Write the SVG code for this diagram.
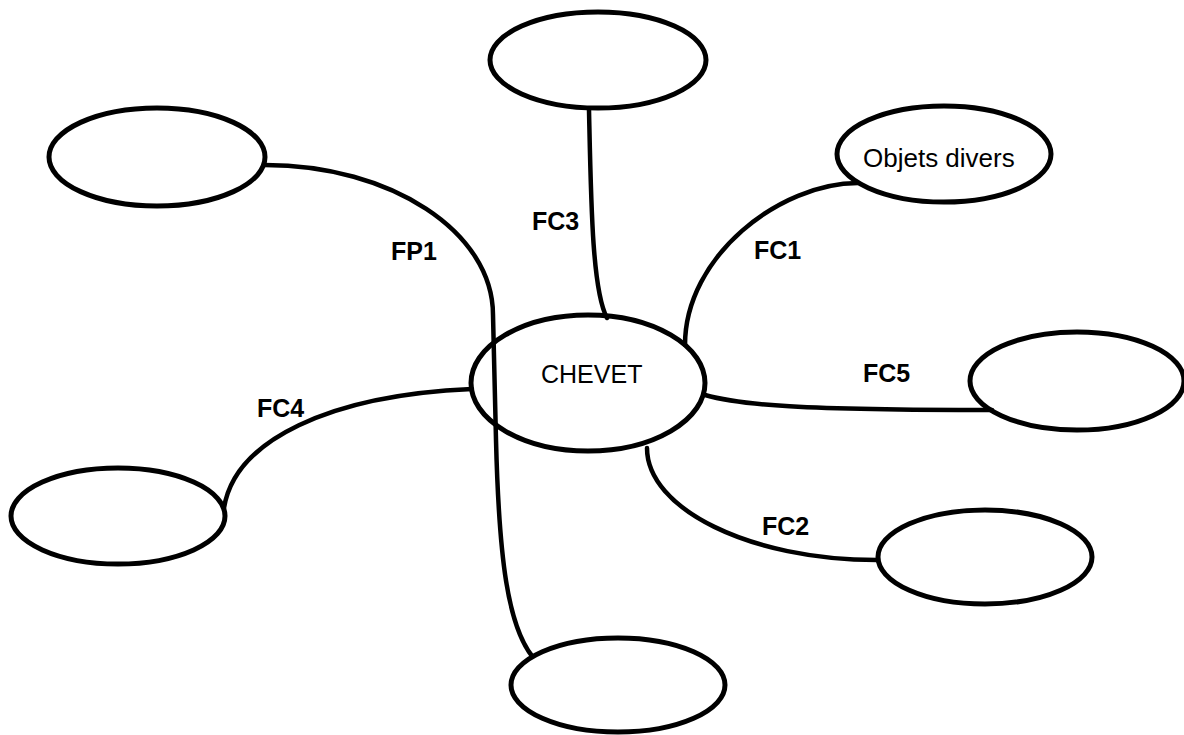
<svg xmlns="http://www.w3.org/2000/svg" width="1184" height="735" viewBox="0 0 1184 735">
<style>
.node{fill:none;stroke:#000;stroke-width:5}
.conn{fill:none;stroke:#000;stroke-width:4.5;stroke-linecap:round}
.lbl{font-family:"Liberation Sans",Arial,sans-serif;font-weight:bold;font-size:25px;fill:#000}
.txt{font-family:"Liberation Sans",Arial,sans-serif;font-size:25px;fill:#000}
</style>
<rect width="1184" height="735" fill="#fff"/>
<g id="node-top"><ellipse class="node" cx="598" cy="60" rx="108" ry="48"/></g>
<g id="node-topleft"><ellipse class="node" cx="157" cy="157" rx="108" ry="49"/></g>
<g id="node-objets"><ellipse class="node" cx="944" cy="154" rx="107" ry="48"/><text class="txt" x="863" y="167" style="font-size:26px">Objets divers</text></g>
<g id="node-chevet"><ellipse class="node" cx="588" cy="383" rx="117" ry="68"/><text class="txt" x="541" y="383">CHEVET</text></g>
<g id="node-right"><ellipse class="node" cx="1077" cy="381" rx="107" ry="49"/></g>
<g id="node-fc2"><ellipse class="node" cx="985" cy="557" rx="107" ry="47"/></g>
<g id="node-left"><ellipse class="node" cx="118" cy="516" rx="107" ry="48"/></g>
<g id="node-bottom"><ellipse class="node" cx="618" cy="685" rx="107" ry="47"/></g>
<g id="connectors">
<path class="conn" d="M 265 165 C 391 165 493 232 493 315 L 496 440 C 499 560 508 625 532 656"/>
<path class="conn" d="M 589 110 C 591 200 592 290 607 318"/>
<path class="conn" d="M 685 345 C 685 256 780 183 858 183"/>
<path class="conn" d="M 705 395 C 740 405 800 410 992 410"/>
<path class="conn" d="M 647 448 C 647 509 750 560 877 560"/>
<path class="conn" d="M 224 508 C 235 440 330 395 472 389"/>
</g>
<g id="labels">
<text class="lbl" x="532" y="230">FC3</text>
<text class="lbl" x="391" y="260">FP1</text>
<text class="lbl" x="754" y="259">FC1</text>
<text class="lbl" x="863" y="382">FC5</text>
<text class="lbl" x="257" y="417">FC4</text>
<text class="lbl" x="762" y="535">FC2</text>
</g>
</svg>
